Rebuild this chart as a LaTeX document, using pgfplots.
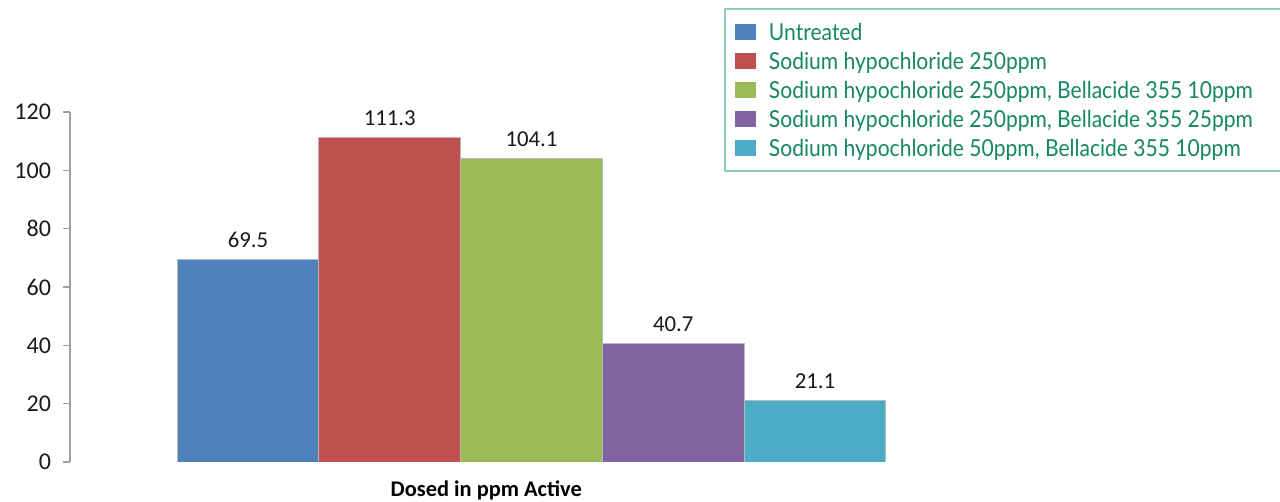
\documentclass[border=0pt]{standalone}
\usepackage{fontspec}
\usepackage{pgfplots}
\pgfplotsset{compat=1.18}
\setmainfont{Carlito}
\newfontfamily\legfont[FakeStretch=0.9]{Lato}
\definecolor{cBlue}{RGB}{79,129,189}
\definecolor{cRed}{RGB}{192,80,77}
\definecolor{cGreen}{RGB}{155,187,89}
\definecolor{cPurple}{RGB}{128,100,162}
\definecolor{cCyan}{RGB}{75,172,198}
\definecolor{axgray}{RGB}{160,160,160}
\definecolor{edgegray}{RGB}{185,185,185}
\definecolor{legtext}{RGB}{22,136,92}
\definecolor{legborder}{RGB}{142,207,182}
\begin{document}
\begin{tikzpicture}
\useasboundingbox (-35pt,-20pt) rectangle (605pt,231pt);
\clip (-35pt,-20pt) rectangle (605pt,231pt);
\begin{axis}[
  at={(0,0)}, anchor=south west,
  scale only axis, width=461.5pt, height=175pt,
  xmin=-1.256, xmax=5.256, ymin=0, ymax=120,
  ytick={0,20,...,120},
  xtick=\empty,
  axis lines*=left,
  axis line style={-},
  x axis line style={draw=none},
  y axis line style={draw=axgray, line width=0.8pt},
  ytick style={draw=axgray, line width=0.8pt},
  tick align=outside, major tick length=3.5pt,
  /pgf/number format/assume math mode=true,
  yticklabel style={font=\fontsize{12}{14}\selectfont, text=black!90, anchor=east, xshift=-2.5pt},
  xlabel={\bfseries Dosed in ppm Active},
  xlabel style={at={(axis description cs:0.451,0)}, anchor=center, yshift=-14pt, font=\fontsize{11.2}{13}\selectfont},
  ybar, bar width=70.875pt, bar shift=0pt,
  every axis plot/.append style={draw=edgegray, line width=0.4pt},
  nodes near coords,
  nodes near coords style={font=\fontsize{11.4}{13}\selectfont, text=black!90, yshift=2.2pt},
  legend style={at={(axis description cs:0.7086,1.297)}, anchor=north west,
    draw=legborder, line width=0.9pt, fill=white,
    inner xsep=5pt, inner ysep=7pt,
    font=\legfont\fontsize{11.7}{14}\selectfont, text=legtext,
    nodes={inner sep=0pt, text height=9pt, text depth=0pt},
    row sep=5.5pt,
    /tikz/every odd column/.append style={column sep=6.5pt}},
  legend cell align=left,
  legend image code/.code={\fill[#1, draw=none] (0pt,-4pt) rectangle (10.5pt,4pt);},
]
\addplot[fill=cBlue] coordinates {(0,69.5)};
\addlegendentry{Untreated}
\addplot[fill=cRed] coordinates {(1,111.3)};
\addlegendentry{Sodium hypochloride 250ppm}
\addplot[fill=cGreen] coordinates {(2,104.1)};
\addlegendentry{Sodium hypochloride 250ppm, Bellacide 355 10ppm}
\addplot[fill=cPurple] coordinates {(3,40.7)};
\addlegendentry{Sodium hypochloride 250ppm, Bellacide 355 25ppm\hspace*{40pt}}
\addplot[fill=cCyan] coordinates {(4,21.1)};
\addlegendentry{Sodium hypochloride 50ppm, Bellacide 355 10ppm}
\end{axis}
\end{tikzpicture}
\end{document}
